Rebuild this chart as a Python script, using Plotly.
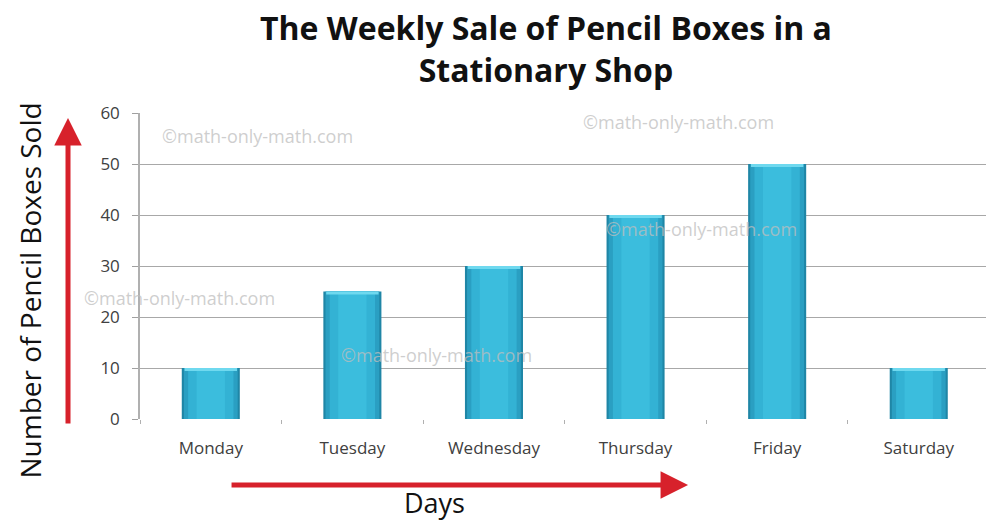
import plotly.graph_objects as go

days = ["Monday", "Tuesday", "Wednesday", "Thursday", "Friday", "Saturday"]
sales = [10, 25, 30, 40, 50, 10]
y_ticks = [0, 10, 20, 30, 40, 50, 60]

title_text = "The Weekly Sale of Pencil Boxes in a<br>Stationary Shop"
y_title = "Number of Pencil Boxes Sold"
x_title = "Days"
watermark = "©math-only-math.com"
wm_pos = [(0.139, 0.925), (0.636, 0.971), (0.664, 0.621), (0.047, 0.395), (0.351, 0.209)]

fig = go.Figure()
# layered bars to mimic the shaded cylinder look
layers = [(0.41, "#1f86a6"), (0.38, "#2a9fc2"), (0.32, "#33b2d4"), (0.20, "#3bbddd")]
for w, c in layers:
    fig.add_trace(go.Bar(x=days, y=sales, width=w, marker=dict(color=c, line=dict(width=0)),
                         hoverinfo="skip", showlegend=False))
# top highlight
fig.add_trace(go.Bar(x=days, y=[0.6] * len(sales), base=[v - 0.6 for v in sales], width=0.37,
                     marker=dict(color="#6fd9ef", line=dict(width=0)), hoverinfo="skip", showlegend=False))

fig.update_layout(
    width=986, height=521,
    barmode="overlay",
    plot_bgcolor="white", paper_bgcolor="white",
    margin=dict(l=140, r=0, t=113, b=102),
    font=dict(family="Open Sans", color="#404040"),
)
fig.update_xaxes(range=[-0.5, 5.475], showline=False, tickson="boundaries", ticks="outside",
                 ticklen=4, tickcolor="#b0b0b0", tickfont=dict(size=17, color="#404040"),
                 ticklabelstandoff=17, showgrid=False, zeroline=False, fixedrange=True)
fig.update_yaxes(range=[0, 60], tickvals=y_ticks, showline=True, linecolor="#b0b0b0", linewidth=1.5,
                 ticks="outside", ticklen=6, tickcolor="#a0a0a0", gridcolor="#a8a8a8", gridwidth=1.2,
                 tickfont=dict(size=17, color="#404040"), ticklabelstandoff=9, zeroline=False)

ann = []
ann.append(dict(text="<b>" + title_text + "</b>", x=0.48, y=1.212, xref="paper", yref="paper",
                showarrow=False, xanchor="center", yanchor="middle",
                font=dict(size=32, color="#111111", family="Open Sans")))
for (px, py) in wm_pos:
    ann.append(dict(text=watermark, x=px, y=py, xref="paper", yref="paper", showarrow=False,
                    xanchor="center", yanchor="middle",
                    font=dict(size=18, color="rgba(190,190,190,0.75)", family="Open Sans")))
ann.append(dict(text=y_title, x=-0.1300, y=0.42, xref="paper", yref="paper", showarrow=False,
                xanchor="center", yanchor="middle",
                textangle=-90, font=dict(size=28, color="#111111", family="Open Sans")))
ann.append(dict(text=x_title, x=0.348, y=-0.272, xref="paper", yref="paper", showarrow=False,
                xanchor="center", yanchor="middle",
                font=dict(size=27, color="#111111", family="Open Sans")))
# red arrows
ann.append(dict(text="", x=-0.0851, y=0.984, xref="paper", yref="paper", showarrow=True,
                ax=0, ay=307, arrowhead=2, arrowsize=1.1, arrowwidth=5, arrowcolor="#d7212b"))
ann.append(dict(text="", x=0.6478, y=-0.2157, xref="paper", yref="paper", showarrow=True,
                ax=-458, ay=0, arrowhead=2, arrowsize=1.1, arrowwidth=5, arrowcolor="#d7212b"))
fig.update_layout(annotations=ann)

fig.write_html("out.html", config={"displayModeBar": False},
               post_script="document.body.style.margin='0';")
